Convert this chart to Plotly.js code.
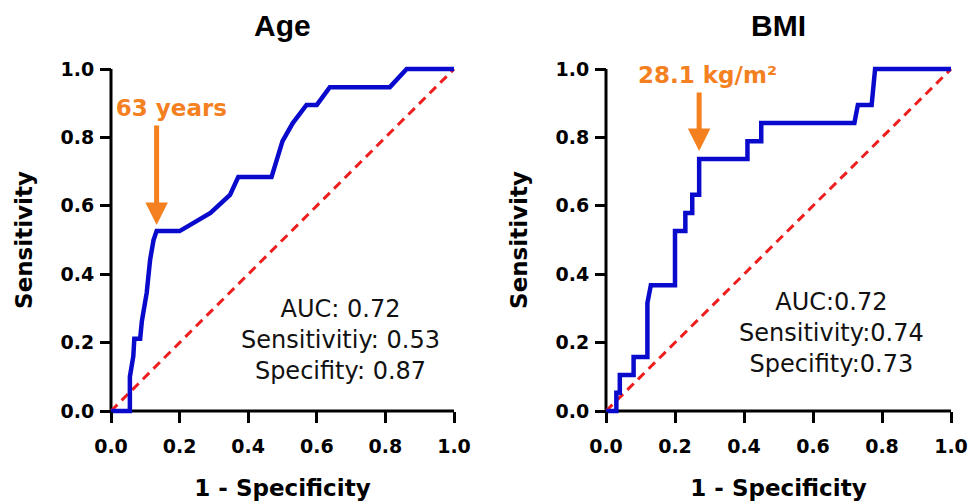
<!DOCTYPE html>
<html>
<head>
<meta charset="utf-8">
<script src="https://cdn.plot.ly/plotly-3.0.1.min.js"></script>
<style>
html,body{margin:0;padding:0;background:#fff;}
#chart{width:980px;height:503px;}
</style>
</head>
<body>
<div id="chart"></div>
<script>
// ---------------- data ----------------
const panelTitles = ['Age', 'BMI'];

const ageFPR = [0, 0.055, 0.055, 0.065, 0.068, 0.085, 0.09, 0.104, 0.114, 0.124, 0.133, 0.2, 0.29, 0.347, 0.371, 0.468, 0.50, 0.53, 0.57, 0.60, 0.638, 0.813, 0.862, 1.0];
const ageTPR = [0, 0, 0.10, 0.16, 0.211, 0.211, 0.263, 0.345, 0.442, 0.50, 0.526, 0.526, 0.579, 0.632, 0.684, 0.684, 0.789, 0.842, 0.895, 0.895, 0.947, 0.947, 1.0, 1.0];

const bmiFPR = [0, 0.03, 0.03, 0.04, 0.04, 0.08, 0.08, 0.12, 0.12, 0.13, 0.20, 0.20, 0.23, 0.23, 0.25, 0.25, 0.27, 0.27, 0.41, 0.41, 0.45, 0.45, 0.72, 0.73, 0.77, 0.78, 1.0];
const bmiTPR = [0, 0, 0.053, 0.053, 0.105, 0.105, 0.158, 0.158, 0.316, 0.368, 0.368, 0.526, 0.526, 0.579, 0.579, 0.632, 0.632, 0.737, 0.737, 0.789, 0.789, 0.842, 0.842, 0.895, 0.895, 1.0, 1.0];

const chanceLine = [0, 1];
const tickVals = [0, 0.2, 0.4, 0.6, 0.8, 1.0];

const cutoffLabels = ['63 years', '28.1 kg/m²'];
const cutoffFPR = [0.133, 0.27];
const cutoffTPR = [0.526, 0.737];

const statsAge = ['AUC: 0.72', 'Sensitivitiy: 0.53', 'Specifity: 0.87'];
const statsBmi = ['AUC:0.72', 'Sensitivity:0.74', 'Specifity:0.73'];

const xTitle = '1 - Specificity';
const yTitle = 'Sensitivity';

// ---------------- layout geometry ----------------
const W = 980, H = 503;
const PAD = 0.01;
const panelX = [[111, 454], [606, 951]];
const yPix = [411, 69];

function xDomain(p) {
  const s = p[1] - p[0];
  return [(p[0] - PAD * s) / W, (p[1] + PAD * s) / W];
}
const ys = yPix[0] - yPix[1];
const yDomain = [1 - (yPix[0] + PAD * ys) / H, 1 - (yPix[1] - PAD * ys) / H];

const ORANGE = '#F4801F';
const BLUE = '#0A0ACD';
const RED = '#EE1E1E';
const BOLD_FAMILY = '"DejaVu Sans", "Liberation Sans", Arial, sans-serif';

const tickFont = {family: BOLD_FAMILY, size: 19, color: '#000', weight: 'bold'};
const titleFont = {family: BOLD_FAMILY, size: 23, color: '#000', weight: 'bold'};

function xAxis(i) {
  return {
    domain: xDomain(panelX[i]), range: [-PAD, 1 + PAD],
    anchor: 'free', position: 1 - yPix[0] / H,
    tickvals: tickVals, tickformat: '.1f',
    ticks: 'outside', ticklen: 11, tickwidth: 3, tickcolor: '#000',
    showline: false, showgrid: false, zeroline: false,
    tickfont: tickFont, ticklabelstandoff: 7,
    title: {text: xTitle, font: titleFont, standoff: 24},
    fixedrange: true
  };
}
function yAxis(i) {
  return {
    domain: yDomain, range: [-PAD, 1 + PAD],
    anchor: 'free', position: panelX[i][0] / W,
    tickvals: tickVals, tickformat: '.1f',
    ticks: 'outside', ticklen: 11, tickwidth: 3, tickcolor: '#000',
    showline: false, showgrid: false, zeroline: false,
    tickfont: tickFont, ticklabelstandoff: 2,
    title: {text: yTitle, font: titleFont, standoff: 20},
    fixedrange: true
  };
}

const traces = [];
const fprs = [ageFPR, bmiFPR], tprs = [ageTPR, bmiTPR];
for (let i = 0; i < 2; i++) {
  const xa = i === 0 ? 'x' : 'x2', ya = i === 0 ? 'y' : 'y2';
  traces.push({x: chanceLine, y: chanceLine, xaxis: xa, yaxis: ya, mode: 'lines',
    line: {color: RED, width: 3, dash: '9px,6px'}, hoverinfo: 'skip'});
  traces.push({x: fprs[i], y: tprs[i], xaxis: xa, yaxis: ya, mode: 'lines',
    line: {color: BLUE, width: 4.5, shape: 'linear'}, hoverinfo: 'skip'});
}

const shapes = [];
['', '2'].forEach(s => {
  shapes.push({type: 'line', xref: 'x' + s, yref: 'y' + s, x0: 0, x1: 1, y0: 0, y1: 0,
    line: {color: '#000', width: 3}, layer: 'below'});
  shapes.push({type: 'line', xref: 'x' + s, yref: 'y' + s, x0: 0, x1: 0, y0: -0.004, y1: 1,
    line: {color: '#000', width: 3}, layer: 'below'});
});

const annotations = [];
// panel titles
panelTitles.forEach((t, i) => {
  annotations.push({xref: 'paper', yref: 'paper',
    x: (panelX[i][0] + panelX[i][1]) / 2 / W, y: 1 - 26 / H,
    xanchor: 'center', yanchor: 'middle', showarrow: false, text: t,
    font: {family: '"Liberation Sans", Arial, sans-serif', size: 30, color: '#000', weight: 'bold'}});
});
// stats text
const statsList = [statsAge, statsBmi];
const statsPos = [[0.668, 0.208], [0.655, 0.228]];
statsList.forEach((lines, i) => {
  const s = i === 0 ? '' : '2';
  annotations.push({xref: 'x' + s, yref: 'y' + s, x: statsPos[i][0], y: statsPos[i][1],
    xanchor: 'center', yanchor: 'middle', align: 'center', showarrow: false,
    text: lines.join('<br>'),
    font: {family: '"DejaVu Sans", sans-serif', size: 24, color: '#111'}});
});
// cutoff labels with their arrows (label box centred over the arrow, text right-aligned in it)
const arrowTail = [-123, -84];
const labelBoxWidth = [140, 156];
const arrowStandoff = [6, 8];
for (let i = 0; i < 2; i++) {
  const s = i === 0 ? '' : '2';
  annotations.push({xref: 'x' + s, yref: 'y' + s, x: cutoffFPR[i], y: cutoffTPR[i],
    text: cutoffLabels[i], width: labelBoxWidth[i], align: 'right',
    showarrow: true, ax: 0, ay: arrowTail[i],
    arrowcolor: ORANGE, arrowwidth: 5, arrowhead: 2, arrowsize: 0.9,
    standoff: arrowStandoff[i], startstandoff: 3,
    font: {family: BOLD_FAMILY, size: 23, color: ORANGE, weight: 'bold'}});
}

const layout = {
  width: W, height: H,
  margin: {l: 0, r: 0, t: 0, b: 0},
  paper_bgcolor: '#fff', plot_bgcolor: 'rgba(0,0,0,0)',
  showlegend: false,
  xaxis: xAxis(0), yaxis: yAxis(0),
  xaxis2: xAxis(1), yaxis2: yAxis(1),
  shapes: shapes, annotations: annotations
};

Plotly.newPlot('chart', traces, layout, {displayModeBar: false, staticPlot: true});
</script>
</body>
</html>
